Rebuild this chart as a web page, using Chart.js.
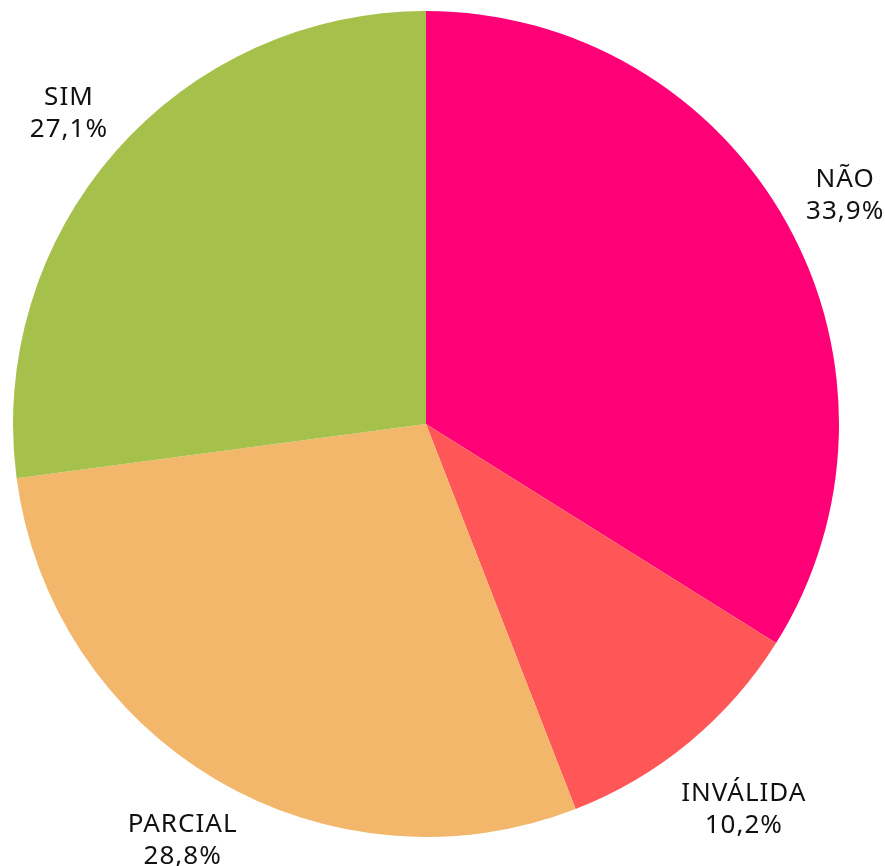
<!DOCTYPE html>
<html>
<head>
<meta charset="utf-8">
<script src="https://cdn.jsdelivr.net/npm/chart.js@4"></script>
<style>
  html, body { margin: 0; padding: 0; background: #fff; }
  #wrap { width: 885px; height: 866px; }
</style>
</head>
<body>
<div id="wrap"><canvas id="pieChart" width="885" height="866"></canvas></div>
<script>
// Dados
const categorias = ["NÃO", "INVÁLIDA", "PARCIAL", "SIM"];
const percentuais = [33.9, 10.2, 28.8, 27.1];
const cores = ["#FF0077", "#FF5757", "#F3B76B", "#A6C04C"];
// distância extra de cada rótulo além da borda da pizza
const afastamento = [65, 84, 67, 63];

// Rótulos fora da pizza: nome + percentual
const rotulosExternos = {
    id: "rotulosExternos",
    afterDatasetsDraw(chart) {
        const ctx = chart.ctx;
        const meta = chart.getDatasetMeta(0);
        ctx.save();
        ctx.font = "26px 'Noto Sans', sans-serif";
        ctx.letterSpacing = "1px";
        ctx.fillStyle = "#111";
        ctx.textAlign = "center";
        ctx.textBaseline = "middle";
        meta.data.forEach(function(arc, i) {
            const p = arc.getProps(["x", "y", "startAngle", "endAngle", "outerRadius"], true);
            const meio = (p.startAngle + p.endAngle) / 2;
            const r = p.outerRadius + afastamento[i];
            const x = p.x + Math.cos(meio) * r + 1;
            const y = p.y + Math.sin(meio) * r + 3;
            const valor = percentuais[i].toFixed(1).replace(".", ",") + "%";
            ctx.fillText(categorias[i], x, y - 16);
            ctx.fillText(valor, x, y + 16);
        });
        ctx.restore();
    }
};

const ctx = document.getElementById("pieChart").getContext("2d");
new Chart(ctx, {
    type: "pie",
    data: {
        labels: categorias,
        datasets: [{
            data: percentuais,
            backgroundColor: cores,
            borderWidth: 0
        }]
    },
    options: {
        responsive: false,
        animation: false,
        layout: {
            padding: { top: 11, bottom: 29, left: 0, right: 33 }
        },
        plugins: {
            legend: { display: false },
            tooltip: { enabled: false }
        }
    },
    plugins: [rotulosExternos]
});
</script>
</body>
</html>
